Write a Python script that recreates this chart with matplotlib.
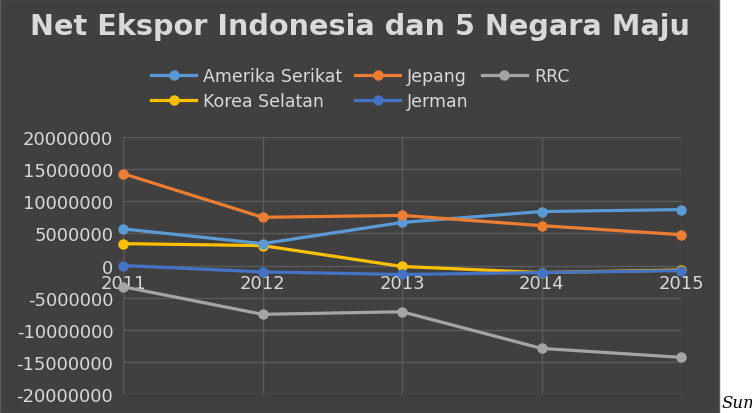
import matplotlib.pyplot as plt
from matplotlib.patches import Rectangle

tahun = ["2011", "2012", "2013", "2014", "2015"]

amerika_serikat = [5700000, 3400000, 6700000, 8400000, 8700000]
jepang = [14300000, 7500000, 7800000, 6200000, 4800000]
rrc = [-3300000, -7600000, -7200000, -12900000, -14300000]
korea_selatan = [3400000, 3100000, -150000, -1100000, -700000]
jerman = [0, -1000000, -1400000, -1100000, -800000]

yticks = [20000000, 15000000, 10000000, 5000000, 0,
          -5000000, -10000000, -15000000, -20000000]

bg = "#404040"
teks = "#d9d9d9"

fig = plt.figure(figsize=(7.52, 4.14), dpi=100)
fig.patches.append(Rectangle((0, 0), 719 / 752, 1, transform=fig.transFigure,
                             facecolor=bg, edgecolor="#5a5a5a", lw=1, zorder=-10))

ax = fig.add_axes([123 / 752, 19 / 414, 558 / 752, 257 / 414])
ax.set_facecolor(bg)

x = list(range(len(tahun)))
seri = [
    ("Amerika Serikat", amerika_serikat, "#5b9bd5"),
    ("Korea Selatan", korea_selatan, "#ffc000"),
    ("Jepang", jepang, "#ed7d31"),
    ("Jerman", jerman, "#4472c4"),
    ("RRC", rrc, "#a5a5a5"),
]
urutan_gambar = ["RRC", "Korea Selatan", "Amerika Serikat", "Jepang", "Jerman"]
for nama, nilai, warna in seri:
    ax.plot(x, nilai, color=warna, lw=2.3, marker="o", markersize=6.5,
            label=nama, zorder=3 + urutan_gambar.index(nama), clip_on=False)

ax.set_xlim(0, 4)
ax.set_ylim(-20000000, 20000000)
ax.set_yticks(yticks)
ax.set_yticklabels([str(v) for v in yticks])
ax.set_xticks(x)
ax.set_xticklabels(tahun)
ax.grid(True, color="#5a5a5a", lw=1)
ax.set_axisbelow(True)
for s in ax.spines.values():
    s.set_visible(False)
ax.spines["bottom"].set_position(("data", 0))
ax.tick_params(axis="both", length=0, colors=teks, labelsize=13)
ax.tick_params(axis="x", pad=6)
ax.tick_params(axis="y", pad=7)

fig.text(0.478, 0.935, "Net Ekspor Indonesia dan 5 Negara Maju", ha="center",
         va="center", fontsize=20.7, fontweight="bold", color=teks)

leg = fig.legend(loc="center", bbox_to_anchor=(0.479, 0.784), ncol=3,
                 frameon=False, handlelength=2.6, columnspacing=0.75,
                 handletextpad=0.4, labelspacing=0.4, borderpad=0,
                 prop={"family": "DejaVu Sans", "size": 12.5})
for t in leg.get_texts():
    t.set_color(teks)

fig.text(722 / 752, 0.005, "Sumber:", fontsize=12, style="italic",
         family="DejaVu Serif", color="black", va="bottom")

fig.savefig("out.png", dpi=100)
